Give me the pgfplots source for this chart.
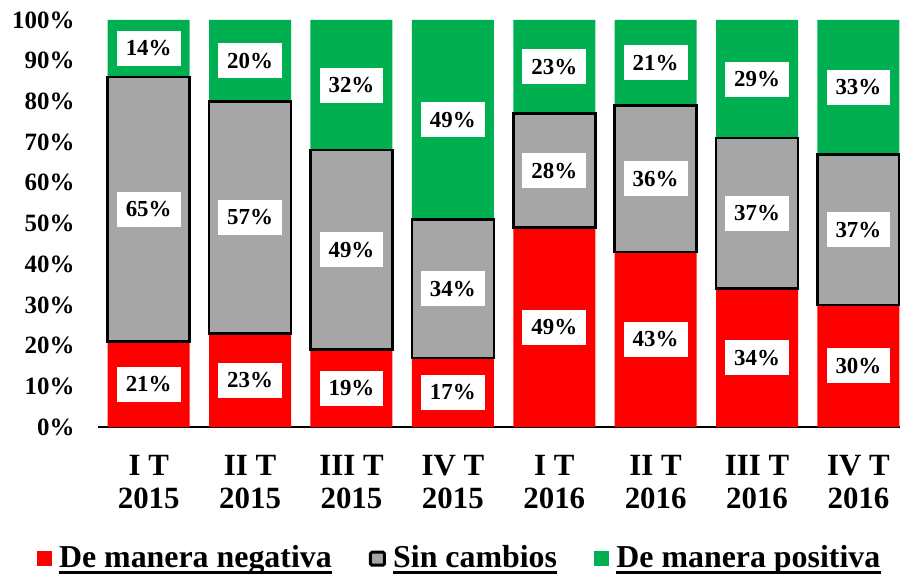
\documentclass[border=0pt]{standalone}
\usepackage{fontspec}
\setmainfont{Liberation Serif}
\usepackage{pgfplots}
\pgfplotsset{compat=1.18}
\definecolor{cneg}{HTML}{FF0000}
\definecolor{csin}{HTML}{A6A6A6}
\definecolor{cpos}{HTML}{00B050}
\newcommand{\myul}[1]{\tikz[baseline=(t.base)]{\node[inner sep=0pt, text=black] (t) {#1}; \fill[black] ([yshift=-3.4bp]t.base west) rectangle ([yshift=-6bp]t.base east);}}
\pgfplotsset{base/.style={
  scale only axis, width=802bp, height=407bp,
  xmin=-0.5, xmax=7.41, ymin=0, ymax=100,
  clip=false,
}}
\begin{document}
\begin{tikzpicture}
\begin{axis}[base, ybar stacked, bar width=82bp,
  axis lines*=left,
  y axis line style={draw=none},
  x axis line style={line width=1.5bp, black},
  major tick length=0,
  xtick={0,...,7},
  xticklabels={{I T\\2015},{II T\\2015},{III T\\2015},{IV T\\2015},{I T\\2016},{II T\\2016},{III T\\2016},{IV T\\2016}},
  xticklabel style={align=center, font=\fontsize{31}{33}\selectfont\bfseries, yshift=-25bp},
  ytick={0,10,...,100},
  yticklabels={0\%,10\%,20\%,30\%,40\%,50\%,60\%,70\%,80\%,90\%,100\%},
  yticklabel style={font=\fontsize{25}{30}\selectfont\bfseries, xshift=-20bp},
  legend columns=3,
  legend style={at={(0.451,-0.32)}, anchor=center, draw=none, inner sep=0pt,
    font=\fontsize{32}{34}\selectfont\bfseries,
    /tikz/every odd column/.append style={column sep=5bp},
    /tikz/every even column/.append style={column sep=35bp}},
]
\addplot[fill=cneg, draw=none, legend image code/.code={\fill[cneg] (0bp,-9bp) rectangle (15bp,6bp);}] coordinates {(0,21) (1,23) (2,19) (3,17) (4,49) (5,43) (6,34) (7,30)};
\addplot[fill=csin, draw=black, line width=2.5bp, legend image code/.code={\draw[draw=black, fill=csin, line width=3bp, rounded corners=1.5bp] (0bp,-8bp) rectangle (14bp,5bp);}] coordinates {(0,65) (1,57) (2,49) (3,34) (4,28) (5,36) (6,37) (7,37)};
\addplot[fill=cpos, draw=none, legend image code/.code={\fill[cpos] (0bp,-9bp) rectangle (15bp,6bp);}] coordinates {(0,14) (1,20) (2,32) (3,49) (4,23) (5,21) (6,29) (7,33)};
\legend{\myul{De manera negativa},\myul{Sin cambios},\myul{De manera positiva}}
\end{axis}
\begin{axis}[base, ybar stacked, bar width=82bp, hide axis]
\addplot[fill=none, draw=none] coordinates {(0,21) (1,23) (2,19) (3,17) (4,49) (5,43) (6,34) (7,30)};
\addplot[fill=none, draw=black, line width=2.5bp] coordinates {(0,65) (1,57) (2,49) (3,34) (4,28) (5,36) (6,37) (7,37)};
\end{axis}
\begin{axis}[base, hide axis,
  every node near coord/.append style={anchor=center, fill=white, inner xsep=9bp, inner ysep=0bp, minimum height=35bp, font=\fontsize{23}{27}\selectfont\bfseries}]
\addplot[draw=none, mark=none, nodes near coords, point meta=explicit symbolic] coordinates {
(0,10.5) [21\%] (1,11.5) [23\%] (2,9.5) [19\%] (3,8.5) [17\%] (4,24.5) [49\%] (5,21.5) [43\%] (6,17) [34\%] (7,15) [30\%]
(0,53.5) [65\%] (1,51.5) [57\%] (2,43.5) [49\%] (3,34) [34\%] (4,63) [28\%] (5,61) [36\%] (6,52.5) [37\%] (7,48.5) [37\%]
(0,93) [14\%] (1,90) [20\%] (2,84) [32\%] (3,75.5) [49\%] (4,88.5) [23\%] (5,89.5) [21\%] (6,85.5) [29\%] (7,83.5) [33\%]
};
\end{axis}
\pgfresetboundingbox
\path (current axis.south west) ++(-98bp,-149bp) rectangle ++(900bp,576bp);
\end{tikzpicture}
\end{document}
